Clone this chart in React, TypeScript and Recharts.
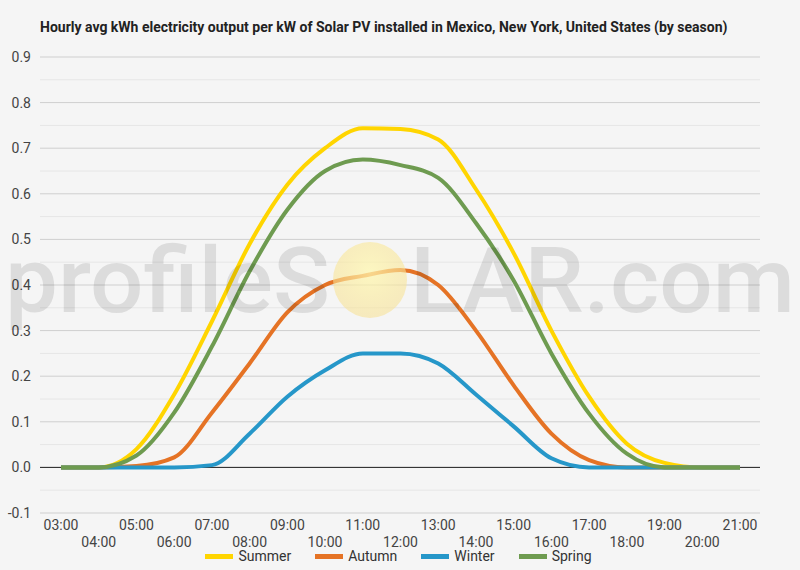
import { CartesianGrid, Legend, Line, LineChart, ReferenceLine, XAxis, YAxis } from "recharts"

const hours = [
  "03:00", "04:00", "05:00", "06:00", "07:00", "08:00", "09:00", "10:00", "11:00", "12:00",
  "13:00", "14:00", "15:00", "16:00", "17:00", "18:00", "19:00", "20:00", "21:00",
]

const summer = [0, 0, 0.04, 0.16, 0.32, 0.49, 0.62, 0.7, 0.744, 0.742, 0.719, 0.61, 0.47, 0.3, 0.155, 0.052, 0.01, 0, 0]
const autumn = [0, 0, 0.003, 0.022, 0.12, 0.228, 0.34, 0.4, 0.42, 0.433, 0.4, 0.3, 0.18, 0.074, 0.016, 0, 0, 0, 0]
const winter = [0, 0, 0, 0, 0.005, 0.074, 0.155, 0.213, 0.25, 0.25, 0.228, 0.16, 0.09, 0.02, 0, 0, 0, 0, 0]
const spring = [0, 0, 0.026, 0.12, 0.265, 0.43, 0.565, 0.65, 0.675, 0.663, 0.635, 0.536, 0.41, 0.25, 0.118, 0.03, 0, 0, 0]

const yTicks = [-0.1, 0, 0.1, 0.2, 0.3, 0.4, 0.5, 0.6, 0.7, 0.8, 0.9]
const minorTicks = [-0.05, 0.05, 0.15, 0.25, 0.35, 0.45, 0.55, 0.65, 0.75, 0.85]

const seasons = [
  { key: "summer", name: "Summer", color: "#FFD500" },
  { key: "autumn", name: "Autumn", color: "#E57325" },
  { key: "winter", name: "Winter", color: "#2697C9" },
  { key: "spring", name: "Spring", color: "#6E9B50" },
]

const data = hours.map((hour, i) => ({
  hour,
  summer: summer[i],
  autumn: autumn[i],
  winter: winter[i],
  spring: spring[i],
}))

const FONT = "Roboto, 'Noto Sans', sans-serif"

function HourTick({ x, y, payload, index }: any) {
  const lower = index % 2 === 1
  return (
    <text x={x} y={y + (lower ? 26 : 9)} textAnchor="middle" fontSize={14} fill="#444" fontFamily={FONT}>
      {payload.value}
    </text>
  )
}

function SeasonLegend() {
  return (
    <div style={{ display: "flex", justifyContent: "center", gap: 24, paddingLeft: 37, fontFamily: FONT, fontSize: 14, color: "#333" }}>
      {seasons.map(s => (
        <div key={s.key} style={{ display: "flex", alignItems: "center" }}>
          <span style={{ display: "inline-block", width: 28, height: 5, background: s.color, marginRight: 5 }} />
          {s.name}
        </div>
      ))}
    </div>
  )
}

function Watermark() {
  return (
    <svg width={800} height={570} style={{ position: "absolute", left: 0, top: 0, pointerEvents: "none" }}>
      <defs>
        <radialGradient id="sun" cx="50%" cy="40%" r="60%">
          <stop offset="0%" stopColor="#fff8b0" stopOpacity={0.75} />
          <stop offset="100%" stopColor="#f7e090" stopOpacity={0.55} />
        </radialGradient>
      </defs>
      <ellipse cx={370} cy={280} rx={37} ry={38} fill="url(#sun)" />
      <g fill="#000" fillOpacity={0.1} fontFamily={FONT} fontWeight={500} fontSize={90}>
        <text x={5} y={312} textLength={325} lengthAdjust="spacingAndGlyphs">profileS</text>
        <text x={410} y={312} textLength={385} lengthAdjust="spacingAndGlyphs">LAR.com</text>
      </g>
    </svg>
  )
}

export default function App() {
  return (
    <div style={{ position: "fixed", left: 0, top: 0, width: 800, height: 570, background: "#f5f5f5", overflow: "hidden" }}>
      <div style={{ position: "absolute", left: 40, top: 19, fontFamily: FONT, fontWeight: 700, fontSize: 14, color: "#222" }}>
        Hourly avg kWh electricity output per kW of Solar PV installed in Mexico, New York, United States (by season)
      </div>
      <LineChart width={800} height={570} data={data} margin={{ top: 57, right: 40, left: 0, bottom: 4 }}>
        {minorTicks.map(v => (
          <ReferenceLine key={v} y={v} stroke="#e6e6e6" strokeWidth={1} />
        ))}
        <CartesianGrid vertical={false} stroke="#cfcfcf" />
        <ReferenceLine y={0} stroke="#222" strokeWidth={1} />
        <XAxis
          dataKey="hour"
          axisLine={false}
          tickLine={false}
          interval={0}
          padding={{ left: 21, right: 20 }}
          height={35}
          tick={<HourTick />}
        />
        <YAxis
          domain={[-0.1, 0.9]}
          ticks={yTicks}
          width={40}
          axisLine={false}
          tickLine={false}
          tickSize={0}
          tickMargin={9}
          tickFormatter={(v: number) => v.toFixed(1)}
          tick={{ fontSize: 14, fill: "#444", fontFamily: FONT }}
        />
        {seasons.map(s => (
          <Line
            key={s.key}
            type="monotone"
            dataKey={s.key}
            name={s.name}
            stroke={s.color}
            strokeWidth={4}
            dot={false}
            activeDot={false}
            isAnimationActive={false}
          />
        ))}
        <Legend verticalAlign="bottom" height={18} content={<SeasonLegend />} />
      </LineChart>
      <Watermark />
    </div>
  )
}
